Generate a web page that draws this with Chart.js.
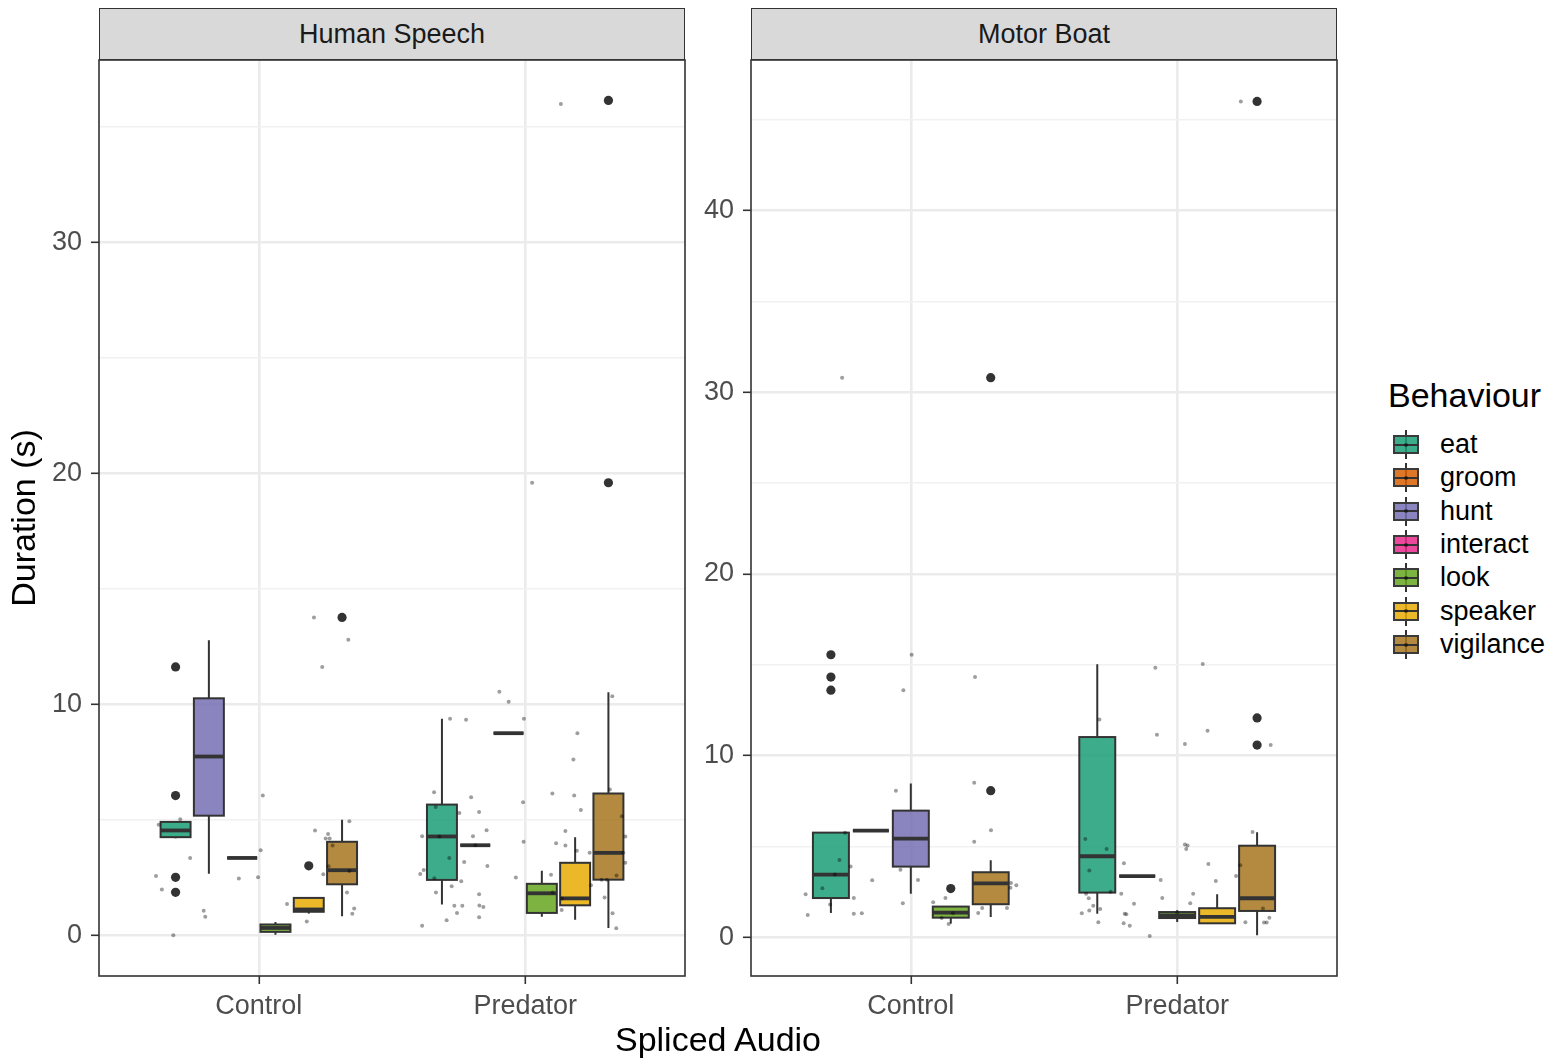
<!DOCTYPE html>
<html>
<head>
<meta charset="utf-8">
<script src="https://cdn.jsdelivr.net/npm/chart.js@4.4.1/dist/chart.umd.min.js"></script>
<style>
  html, body { margin: 0; padding: 0; background: #ffffff; }
  body { font-family: 'Liberation Sans', Arial, Helvetica, sans-serif; }
  #wrap { position: relative; width: 1560px; height: 1061px; overflow: hidden; background: #fff; }
  canvas.panel { position: absolute; top: 0; }
  .strip { position: absolute; top: 8px; height: 52px; width: 586px; box-sizing: border-box;
           background: #d9d9d9; border: 1.5px solid #333; color: #1a1a1a; font-size: 27px;
           display: flex; align-items: center; justify-content: center; }
  #xtitle { position: absolute; left: 99px; width: 1238px; top: 1019px; text-align: center;
            font-size: 34px; color: #000; line-height: 40px; }
  #legend { position: absolute; left: 1388px; top: 375px; }
  #legend .ttl { font-size: 34px; color: #000; line-height: 40px; margin-bottom: 13px; }
  #legend .row { position: relative; height: 33.35px; }
  #legend .key { position: absolute; left: 5px; top: 2px; width: 26px; height: 29px; }
  #legend .wh { position: absolute; left: 12px; top: 0; width: 1.6px; height: 29px; background: #333; }
  #legend .bx { position: absolute; left: 0; top: 5px; width: 26px; height: 19px; box-sizing: border-box;
                border: 2px solid #3a3a3a; }
  #legend .md { position: absolute; left: 0; top: 13.5px; width: 26px; height: 2px; background: #333; }
  #legend .dt { position: absolute; left: 11px; top: 12.5px; width: 4px; height: 4px; border-radius: 50%; background: rgba(0,0,0,0.5); }
  #legend .lab { position: absolute; left: 52px; top: 0; font-size: 27px; line-height: 33px; color: #000; }
</style>
</head>
<body>
<div id="wrap">
  <canvas id="hs" class="panel" width="700" height="1061" style="left:0px"></canvas>
  <canvas id="mb" class="panel" width="700" height="1061" style="left:652px"></canvas>
  <div class="strip" style="left:99px" id="strip0"></div>
  <div class="strip" style="left:751px" id="strip1"></div>
  <div id="xtitle"></div>
  <div id="legend"></div>
</div>
<script>
// ---------------- data ----------------
const facetTitles = ['Human Speech', 'Motor Boat'];
const audioLevels = ['Control', 'Predator'];
const xAxisTitle = 'Spliced Audio';
const yAxisTitle = 'Duration (s)';
const legendTitle = 'Behaviour';
const behaviours = ['eat', 'groom', 'hunt', 'interact', 'look', 'speaker', 'vigilance'];
const behaviourColours = ['#1B9E77', '#D95F02', '#7570B3', '#E7298A', '#66A61E', '#E6AB02', '#A6761D'];

// box statistics: [lower whisker, Q1, median, Q3, upper whisker]
// Human Speech - Control
const hsControlGroups = ['eat', 'hunt', 'interact', 'look', 'speaker', 'vigilance'];
const hsControlStats = [
  [4.21, 4.26, 4.55, 4.92, 4.92],
  [2.68, 5.19, 7.75, 10.27, 12.78],
  [3.36, 3.36, 3.36, 3.36, 3.36],
  [0.04, 0.16, 0.33, 0.48, 0.59],
  [0.95, 1.03, 1.13, 1.63, 1.63],
  [0.84, 2.22, 2.83, 4.06, 5.01]
];
const hsControlOutliers = [[11.63, 6.06, 2.52, 1.87], [], [], [], [3.02], [13.77]];
const hsControlJitterX = [0.207,0.336,0.238,0.015,-0.295,-0.376,-0.258,0.007,-0.386,-0.364,-0.075,-0.003,-0.207,-0.201,-0.321,0.211,0.260,0.251,0.266,0.277,0.242,0.262,0.340,0.340,0.331,0.358,0.351,0.106,0.180];
const hsControlJitterY = [13.77,12.81,11.63,6.06,5.03,4.80,3.36,3.69,2.58,1.99,2.47,2.52,1.07,0.81,0.01,4.55,4.40,4.20,4.20,3.90,2.65,3.00,4.95,2.80,1.86,1.17,0.94,1.37,0.61];

// Human Speech - Predator
const hsPredatorGroups = ['eat', 'hunt', 'interact', 'look', 'speaker', 'vigilance'];
const hsPredatorStats = [
  [1.34, 2.41, 4.29, 5.67, 9.38],
  [3.91, 3.91, 3.91, 3.91, 3.91],
  [8.76, 8.76, 8.76, 8.76, 8.76],
  [0.81, 0.98, 1.83, 2.24, 2.81],
  [0.69, 1.31, 1.61, 3.15, 4.26],
  [0.33, 2.42, 3.58, 6.15, 10.53]
];
const hsPredatorOutliers = [[], [], [], [], [], [36.15, 19.60]];
const hsPredatorJitterX = [-0.097,-0.062,-0.282,-0.222,-0.005,0.196,0.181,-0.342,0.102,0.184,0.327,0.318,-0.008,-0.336,-0.247,-0.173,0.209,-0.203,-0.387,-0.322,-0.145,-0.196,-0.187,-0.006,0.116,0.151,0.151,0.194,0.242,0.363,0.376,0.368,0.376,-0.285,-0.229,-0.142,-0.381,-0.394,-0.341,-0.240,-0.035,0.097,0.343,0.287,0.307,-0.276,-0.335,-0.173,0.103,0.138,0.247,0.298,-0.266,-0.236,-0.172,-0.157,-0.256,0.137,-0.173,-0.295,0.328,0.342,-0.387,0.134,0.026];
const hsPredatorJitterY = [10.55,10.12,9.39,9.34,9.39,8.76,7.62,6.20,6.15,6.06,10.36,6.32,5.77,5.57,5.31,5.35,5.44,5.99,4.30,4.29,4.56,4.30,3.91,4.06,4.00,4.53,3.90,3.67,3.59,5.16,4.29,3.58,3.15,3.36,3.19,3.01,2.84,2.67,2.48,2.35,2.51,2.63,2.60,2.42,2.42,2.13,1.86,1.79,1.86,1.61,2.18,1.65,1.29,1.29,1.30,1.24,0.98,1.11,0.79,0.66,0.97,0.32,0.42,36.00,19.60];

// Motor Boat - Control
const mbControlGroups = ['eat', 'groom', 'hunt', 'look', 'vigilance'];
const mbControlStats = [
  [1.34, 2.16, 3.45, 5.76, 5.76],
  [5.87, 5.87, 5.87, 5.87, 5.87],
  [2.40, 3.89, 5.43, 6.97, 8.47],
  [0.75, 1.08, 1.36, 1.69, 1.69],
  [1.12, 1.82, 2.97, 3.58, 4.24]
];
const mbControlOutliers = [[15.55, 14.32, 13.60], [], [], [2.68], [8.07, 30.80]];
const mbControlJitterX = [0.003,-0.028,0.241,-0.056,0.238,0.301,0.238,-0.247,-0.268,-0.226,-0.285,-0.332,-0.395,-0.303,-0.387,-0.214,-0.214,-0.184,-0.145,-0.039,0.027,-0.030,0.084,0.130,0.116,0.142,0.158,0.268,0.253,0.361,0.376,0.374,0.396,-0.258];
const mbControlJitterY = [15.55,13.60,14.32,8.07,8.51,5.89,5.26,5.76,4.25,3.89,3.45,2.70,2.37,1.80,1.23,2.16,1.30,1.32,3.14,3.72,3.15,1.87,1.93,2.16,1.06,0.73,1.32,1.61,1.34,1.61,2.99,2.73,2.86,30.80];

// Motor Boat - Predator
const mbPredatorGroups = ['eat', 'hunt', 'look', 'speaker', 'vigilance'];
const mbPredatorStats = [
  [1.30, 2.46, 4.46, 11.02, 15.02],
  [3.37, 3.37, 3.37, 3.37, 3.37],
  [0.84, 1.06, 1.21, 1.39, 1.49],
  [0.77, 0.77, 1.12, 1.60, 2.37],
  [0.11, 1.45, 2.15, 5.04, 5.78]
];
const mbPredatorOutliers = [[], [], [], [], [12.07, 10.58, 46.00]];
const mbPredatorJitterX = [-0.082,0.096,-0.292,-0.076,0.029,0.114,0.351,0.283,-0.345,-0.265,0.029,0.039,0.034,-0.330,-0.200,0.117,0.237,0.221,-0.062,0.145,-0.056,0.060,0.049,-0.342,-0.332,-0.250,-0.210,-0.162,-0.315,-0.289,-0.330,-0.358,-0.197,-0.191,-0.296,-0.201,-0.178,-0.103,0.000,0.256,0.322,0.326,0.336,0.346,0.239];
const mbPredatorJitterY = [14.84,15.04,11.99,11.15,10.64,11.37,10.58,5.80,5.41,4.86,5.10,5.05,4.86,3.67,4.07,4.03,3.96,3.37,3.15,3.10,2.16,2.40,1.87,2.40,2.15,2.51,2.40,1.85,1.74,1.56,1.47,1.32,1.30,1.27,0.83,0.77,0.64,0.07,1.36,0.83,1.58,0.81,0.81,1.08,46.00];

// y axis limits per facet
const hsYLimits = [-1.75, 37.9];
const mbYLimits = [-2.13, 48.28];

// ---------------- helpers ----------------
Chart.defaults.font.family = "'Liberation Sans', Arial, Helvetica, sans-serif";
const DODGE_WIDTH = 0.75;
const BOX_FRAC = 0.9;

function hexA(hex, a) {
  const n = parseInt(hex.slice(1), 16);
  return `rgba(${(n >> 16) & 255},${(n >> 8) & 255},${n & 255},${a})`;
}
function slotX(levelIdx, gi, n) {
  const slot = DODGE_WIDTH / n;
  return (levelIdx + 1) + (gi - (n - 1) / 2) * slot;
}

function buildFacet(canvasId, levels, yLim, showYTitle) {
  const jitterPts = [];
  const outlierPts = [];
  levels.forEach((lv, li) => {
    lv.jx.forEach((dx, k) => jitterPts.push({ x: (li + 1) + dx, y: lv.jy[k] }));
    const n = lv.groups.length;
    lv.outliers.forEach((arr, gi) => arr.forEach(v => outlierPts.push({ x: slotX(li, gi, n), y: v })));
  });

  const boxPlugin = {
    id: 'boxes_' + canvasId,
    beforeDatasetsDraw(chart) {
      const { ctx, chartArea, scales } = chart;
      const xs = scales.x, ys = scales.y;
      ctx.save();
      ctx.beginPath();
      ctx.rect(chartArea.left, chartArea.top, chartArea.right - chartArea.left, chartArea.bottom - chartArea.top);
      ctx.clip();
      levels.forEach((lv, li) => {
        const n = lv.groups.length;
        const half = BOX_FRAC * DODGE_WIDTH / n / 2;
        lv.groups.forEach((g, gi) => {
          const c = slotX(li, gi, n);
          const s = lv.stats[gi];
          const xc = xs.getPixelForValue(c);
          const xl = xs.getPixelForValue(c - half);
          const xr = xs.getPixelForValue(c + half);
          const yLo = ys.getPixelForValue(s[0]);
          const yQ1 = ys.getPixelForValue(s[1]);
          const yMd = ys.getPixelForValue(s[2]);
          const yQ3 = ys.getPixelForValue(s[3]);
          const yHi = ys.getPixelForValue(s[4]);
          ctx.strokeStyle = '#333333';
          ctx.lineWidth = 2;
          ctx.lineCap = 'butt';
          ctx.beginPath();
          ctx.moveTo(xc, yHi); ctx.lineTo(xc, yQ3);
          ctx.moveTo(xc, yQ1); ctx.lineTo(xc, yLo);
          ctx.stroke();
          const col = behaviourColours[behaviours.indexOf(g)];
          ctx.fillStyle = hexA(col, 0.85);
          ctx.fillRect(xl, yQ3, xr - xl, yQ1 - yQ3);
          ctx.strokeRect(xl, yQ3, xr - xl, yQ1 - yQ3);
          ctx.lineWidth = 3.8;
          ctx.beginPath();
          ctx.moveTo(xl, yMd); ctx.lineTo(xr, yMd);
          ctx.stroke();
        });
      });
      ctx.restore();
    },
    afterDatasetsDraw(chart) {
      const { ctx, chartArea } = chart;
      ctx.save();
      ctx.strokeStyle = '#333333';
      ctx.lineWidth = 1.6;
      ctx.strokeRect(chartArea.left, chartArea.top, chartArea.right - chartArea.left, chartArea.bottom - chartArea.top);
      ctx.restore();
    }
  };

  return new Chart(document.getElementById(canvasId), {
    type: 'scatter',
    data: {
      datasets: [
        { label: 'observations', data: jitterPts, pointRadius: 2, pointHoverRadius: 2,
          backgroundColor: 'rgba(0,0,0,0.38)', borderWidth: 0 },
        { label: 'outliers', data: outlierPts, pointRadius: 4.6, pointHoverRadius: 4.6,
          backgroundColor: '#333333', borderWidth: 0 }
      ]
    },
    options: {
      responsive: false,
      animation: false,
      events: [],
      layout: { padding: { left: 0, right: 15, top: 60, bottom: 35 } },
      plugins: { legend: { display: false }, tooltip: { enabled: false } },
      scales: {
        x: {
          type: 'linear', min: 0.4, max: 2.6,
          afterBuildTicks: (s) => { s.ticks = audioLevels.map((_, i) => ({ value: i + 1 })); },
          afterFit: (s) => { s.height = 50; },
          ticks: { callback: (v) => audioLevels[Math.round(v) - 1], color: '#4d4d4d',
                   font: { size: 27 }, padding: 6, autoSkip: false, maxRotation: 0 },
          grid: { color: '#ebebeb', lineWidth: 2.6, tickColor: '#333333', tickLength: 8, tickWidth: 1.6 },
          border: { display: false }
        },
        y: {
          type: 'linear', min: yLim[0], max: yLim[1],
          afterFit: (s) => { s.width = 99; },
          ticks: { stepSize: 5, includeBounds: false, autoSkip: false, color: '#4d4d4d',
                   font: { size: 27 }, padding: 9,
                   callback: (v) => (Math.abs(v % 10) < 1e-9 ? String(v) : '') },
          grid: {
            color: (c) => (c.tick && Math.abs(c.tick.value % 10) < 1e-9 ? '#ebebeb' : '#f1f1f1'),
            lineWidth: (c) => (c.tick && Math.abs(c.tick.value % 10) < 1e-9 ? 2.6 : 1.4),
            tickColor: (c) => (c.tick && Math.abs(c.tick.value % 10) < 1e-9 ? '#333333' : 'rgba(0,0,0,0)'),
            tickLength: 8, tickWidth: 1.6
          },
          border: { display: false },
          title: { display: showYTitle, text: yAxisTitle, color: '#000', font: { size: 34 },
                   padding: { top: 5, bottom: 0 } }
        }
      }
    },
    plugins: [boxPlugin]
  });
}

buildFacet('hs', [
  { groups: hsControlGroups, stats: hsControlStats, outliers: hsControlOutliers, jx: hsControlJitterX, jy: hsControlJitterY },
  { groups: hsPredatorGroups, stats: hsPredatorStats, outliers: hsPredatorOutliers, jx: hsPredatorJitterX, jy: hsPredatorJitterY }
], hsYLimits, true);

buildFacet('mb', [
  { groups: mbControlGroups, stats: mbControlStats, outliers: mbControlOutliers, jx: mbControlJitterX, jy: mbControlJitterY },
  { groups: mbPredatorGroups, stats: mbPredatorStats, outliers: mbPredatorOutliers, jx: mbPredatorJitterX, jy: mbPredatorJitterY }
], mbYLimits, false);

// strips, x title, legend
document.getElementById('strip0').textContent = facetTitles[0];
document.getElementById('strip1').textContent = facetTitles[1];
document.getElementById('xtitle').textContent = xAxisTitle;
const lg = document.getElementById('legend');
const t = document.createElement('div'); t.className = 'ttl'; t.textContent = legendTitle; lg.appendChild(t);
behaviours.forEach((b, i) => {
  const row = document.createElement('div'); row.className = 'row';
  row.innerHTML = `<div class="key"><div class="wh"></div><div class="bx" style="background:${hexA(behaviourColours[i], 0.85)}"></div><div class="md"></div><div class="dt"></div></div><div class="lab"></div>`;
  row.querySelector('.lab').textContent = b;
  lg.appendChild(row);
});
</script>
</body>
</html>
